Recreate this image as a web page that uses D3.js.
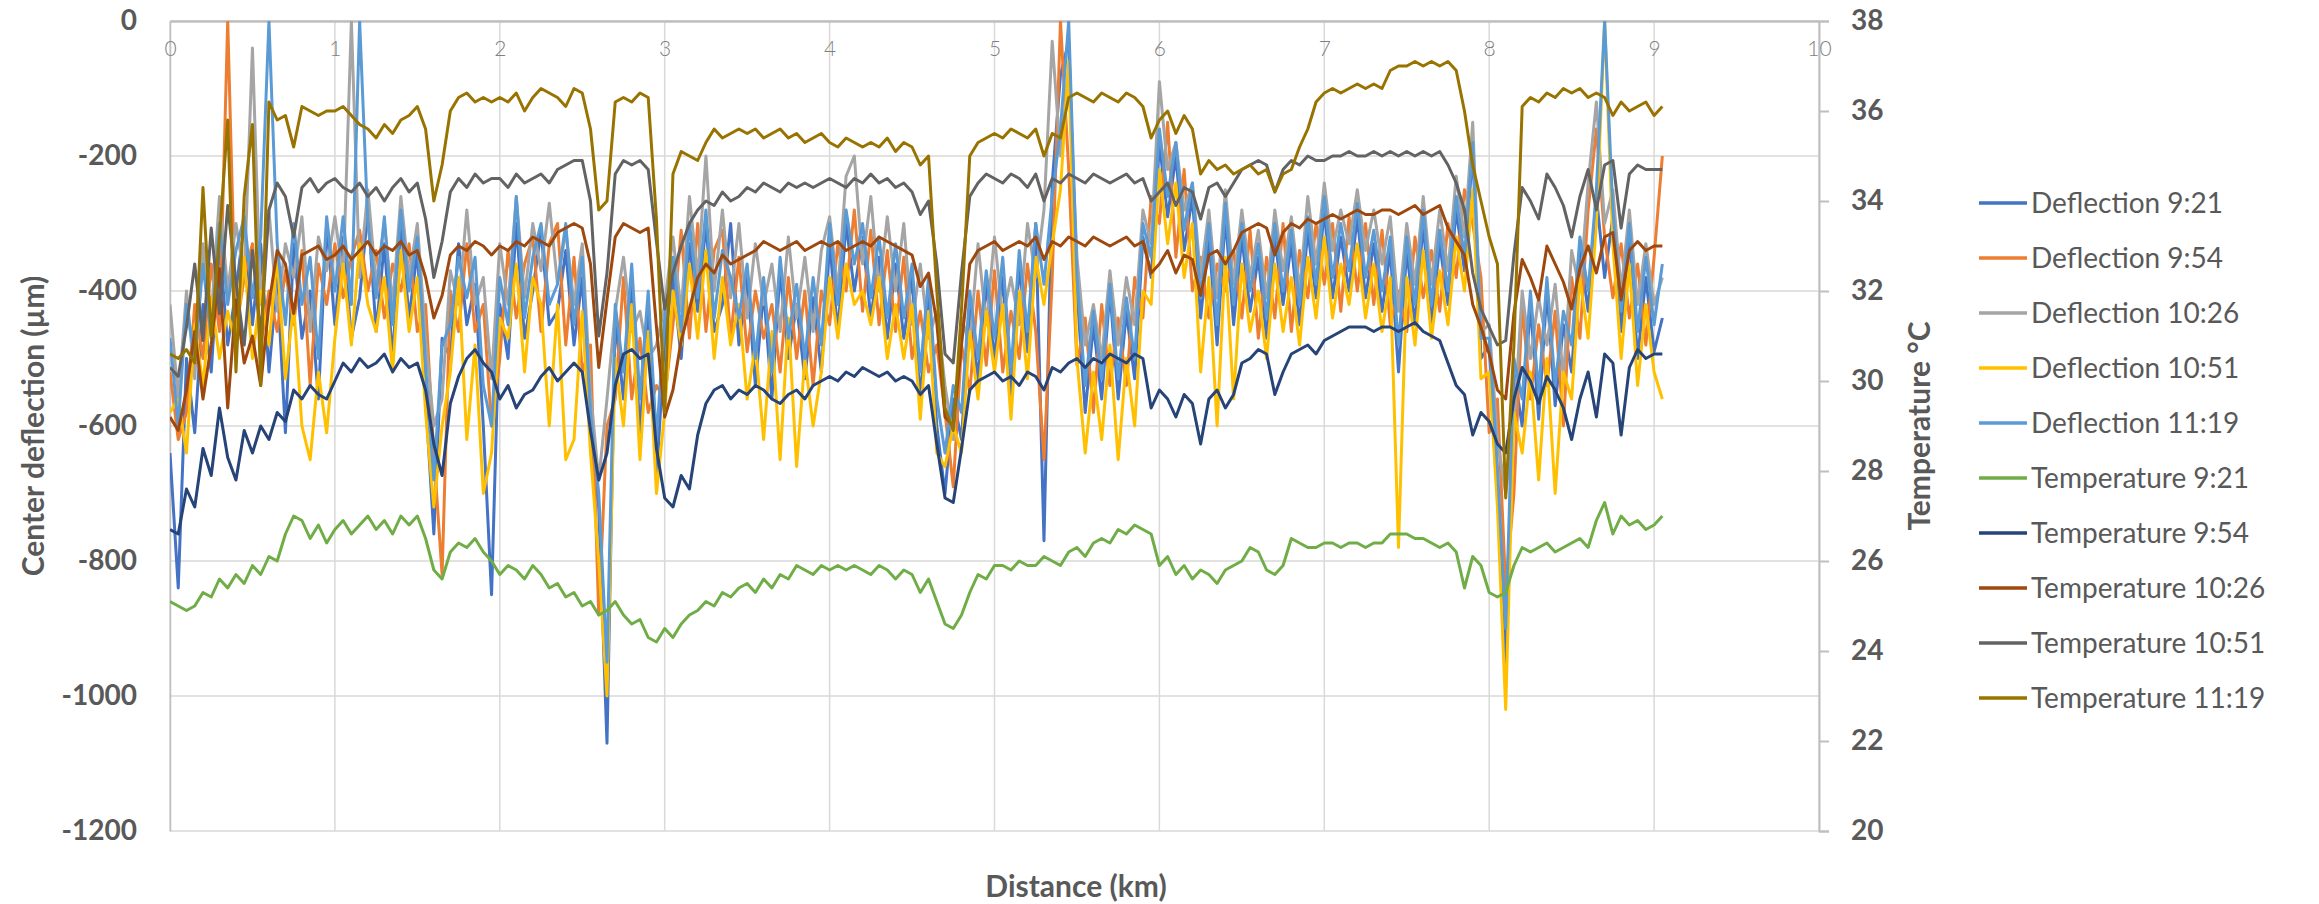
<!DOCTYPE html>
<html>
<head>
<meta charset="utf-8">
<script src="https://cdn.jsdelivr.net/npm/d3@7"></script>
<style>
    body { margin: 0; background: #ffffff; }
    text { font-family: Lato, "Open Sans", sans-serif; fill: #595959; }
    .tickLabel text { font-size: 28px; font-weight: bold; }
    .distanceLabel text { font-size: 21px; font-weight: 300; fill: #7f7f7f; }
    .axisTitle { font-size: 30px; font-weight: bold; }
    .legendText { font-size: 28px; }
    .gridLine { stroke: #d9d9d9; stroke-width: 1.5; }
    .seriesLine { fill: none; stroke-width: 3; stroke-linejoin: round; }
</style>
</head>
<body>
<svg id="chartSVG" width="2319" height="904"></svg>
<script>
//////////////////// DATA ////////////////////
// one sample every 0.05 km, starting at 0 km
const stepKm = 0.05;

// tick values
const distanceTicks = [0, 1, 2, 3, 4, 5, 6, 7, 8, 9, 10];
const deflectionTicks = [0, -200, -400, -600, -800, -1000, -1200];
const temperatureTicks = [20, 22, 24, 26, 28, 30, 32, 34, 36, 38];

// center deflection (µm)
const deflection921 = [
    -640, -840, -500, -610, -420, -520, -330, -480, -400, -300,
    -450, -330, -520, -380, -610, -330, -470, -400, -560, -300,
    -450, -320, -470, -410, -280, -460, -330, -500, -300, -440,
    -340, -560, -760, -470, -500, -330, -450, -390, -600, -850,
    -420, -500, -300, -470, -400, -310, -450, -430, -340, -480,
    -380, -620, -720, -1070, -440, -560, -390, -610, -420, -680,
    -470, -380, -500, -330, -430, -300, -460, -420, -300, -480,
    -380, -540, -400, -560, -370, -500, -420, -530, -410, -520,
    -330, -460, -300, -400, -320, -440, -350, -470, -360, -470,
    -380, -560, -400, -600, -700, -560, -620, -420, -530, -390,
    -500, -380, -560, -360, -490, -300, -770, -240, -80, -30,
    -400, -580, -450, -560, -400, -560, -430, -530, -320, -380,
    -180, -290, -200, -340, -260, -440, -320, -480, -290, -450,
    -320, -430, -350, -470, -320, -420, -330, -450, -310, -410,
    -280, -410, -320, -400, -290, -410, -330, -430, -340, -520,
    -340, -450, -300, -450, -330, -420, -280, -370, -190, -500,
    -480, -700, -950, -520, -600, -420, -590, -400, -570, -450,
    -520, -340, -430, -260, -380, -290, -460, -320, -500, -380,
    -490, -440
];
const deflection954 = [
    -520, -620, -580, -420, -500, -360, -460, 0, -460, -380,
    -330, -480, -400, -460, -370, -450, -340, -540, -360, -420,
    -330, -410, -350, -310, -400, -340, -440, -360, -400, -330,
    -460, -420, -640, -820, -400, -460, -330, -460, -420, -600,
    -500, -340, -440, -360, -320, -460, -330, -300, -480, -350,
    -520, -480, -880, -600, -560, -380, -560, -470, -580, -540,
    -560, -450, -310, -470, -300, -460, -340, -310, -470, -350,
    -490, -400, -470, -420, -520, -380, -500, -400, -540, -400,
    -450, -330, -400, -280, -430, -310, -450, -340, -460, -350,
    -500, -430, -520, -480, -580, -690, -480, -550, -400, -510,
    -370, -520, -430, -500, -360, -460, -650, -380, 0, -220,
    -510, -440, -580, -420, -540, -440, -540, -380, -440, -260,
    -300, -150, -350, -220, -400, -350, -440, -360, -400, -340,
    -440, -310, -470, -350, -440, -300, -460, -340, -410, -300,
    -390, -300, -430, -290, -400, -300, -420, -310, -450, -400,
    -460, -320, -410, -340, -430, -300, -380, -250, -300, -380,
    -610, -560, -840, -700, -420, -560, -450, -540, -430, -600,
    -380, -470, -280, -160, -320, -410, -330, -440, -360, -480,
    -350, -200
];
const deflection1026 = [
    -420, -560, -400, -530, -330, -440, -260, -400, -300, -380,
    -40, -420, -280, -430, -330, -380, -290, -460, -320, -370,
    -290, -380, 0, -380, -250, -390, -300, -420, -260, -380,
    -300, -470, -600, -560, -370, -420, -280, -420, -380, -530,
    -330, -420, -260, -410, -300, -370, -270, -390, -310, -420,
    -330, -550, -680, -560, -430, -350, -460, -430, -500, -480,
    -420, -320, -430, -260, -380, -200, -400, -280, -410, -300,
    -440, -330, -420, -360, -460, -320, -440, -350, -460, -340,
    -290, -400, -230, -200, -360, -260, -400, -290, -400, -300,
    -450, -360, -470, -430, -540, -620, -440, -480, -330, -450,
    -320, -440, -380, -450, -300, -380, -280, -30, -200, -70,
    -350, -480, -420, -500, -370, -480, -380, -450, -280, -330,
    -90, -220, -180, -280, -240, -380, -280, -410, -250, -390,
    -280, -380, -310, -410, -280, -370, -290, -400, -260, -360,
    -240, -340, -280, -330, -250, -340, -280, -360, -290, -430,
    -300, -390, -260, -390, -280, -370, -230, -320, -150, -460,
    -450, -620, -700, -600, -400, -500, -410, -480, -390, -530,
    -340, -400, -240, -120, -300, -250, -400, -280, -420, -330,
    -420, -380
];
const deflection1051 = [
    -580, -560, -640, -450, -540, -410, -500, -430, -480, -350,
    -500, -400, -480, -350, -530, -420, -600, -650, -520, -610,
    -470, -360, -480, -330, -420, -460, -380, -520, -340, -460,
    -380, -580, -720, -600, -520, -380, -620, -480, -700, -640,
    -440, -470, -360, -520, -380, -420, -600, -420, -650, -620,
    -430, -640, -800, -1000, -500, -600, -420, -650, -460, -700,
    -580, -400, -480, -360, -470, -340, -500, -380, -480, -420,
    -560, -480, -620, -460, -650, -440, -660, -500, -600, -520,
    -380, -470, -360, -420, -400, -450, -380, -500, -420, -500,
    -420, -590, -430, -640, -660, -600, -640, -460, -560, -430,
    -520, -420, -590, -400, -530, -350, -420, -330, -250, -60,
    -500, -640, -520, -620, -480, -650, -500, -600, -400, -420,
    -220, -330, -240, -380, -300, -520, -380, -600, -350, -560,
    -360, -460, -400, -500, -360, -460, -380, -480, -350, -440,
    -320, -440, -360, -420, -330, -440, -360, -460, -380, -780,
    -380, -480, -340, -470, -370, -450, -320, -400, -250, -530,
    -520, -720, -1020, -580, -640, -520, -680, -500, -700, -520,
    -560, -380, -470, -300, 0, -330, -500, -360, -540, -420,
    -520, -560
];
const deflection1119 = [
    -470, -600, -420, -500, -360, -470, -300, -420, -340, -290,
    -410, -320, 0, -330, -450, -300, -420, -350, -500, -290,
    -400, -290, -420, 0, -300, -410, -290, -450, -280, -400,
    -320, -510, -680, -480, -450, -350, -410, -350, -540, -600,
    -380, -450, -260, -440, -350, -300, -420, -390, -300, -450,
    -350, -580, -700, -950, -420, -520, -360, -560, -400, -620,
    -440, -350, -460, -300, -410, -280, -440, -340, -380, -440,
    -360, -500, -380, -520, -350, -470, -390, -500, -380, -480,
    -300, -420, -280, -360, -300, -410, -320, -440, -330, -440,
    -360, -520, -380, -560, -640, -540, -580, -400, -500, -370,
    -470, -350, -520, -340, -460, -300, -390, -260, -160, 0,
    -380, -540, -430, -530, -390, -530, -410, -500, -300, -350,
    -160, -260, -180, -310, -240, -410, -300, -450, -270, -420,
    -300, -400, -330, -440, -300, -400, -310, -420, -290, -390,
    -260, -380, -300, -370, -270, -380, -310, -400, -320, -480,
    -320, -420, -280, -420, -310, -400, -260, -350, -180, -470,
    -470, -660, -900, -500, -560, -400, -550, -380, -540, -430,
    -480, -320, -400, -250, 0, -280, -430, -300, -460, -350,
    -450, -360
];

// temperature (°C)
const temperature921 = [
    25.1, 25.0, 24.9, 25.0, 25.3, 25.2, 25.6, 25.4, 25.7, 25.5,
    25.9, 25.7, 26.1, 26.0, 26.6, 27.0, 26.9, 26.5, 26.8, 26.4,
    26.7, 26.9, 26.6, 26.8, 27.0, 26.7, 26.9, 26.6, 27.0, 26.8,
    27.0, 26.5, 25.8, 25.6, 26.2, 26.4, 26.3, 26.5, 26.2, 26.0,
    25.7, 25.9, 25.8, 25.6, 25.9, 25.7, 25.4, 25.5, 25.2, 25.3,
    25.0, 25.1, 24.8, 24.9, 25.1, 24.8, 24.6, 24.7, 24.3, 24.2,
    24.5, 24.3, 24.6, 24.8, 24.9, 25.1, 25.0, 25.3, 25.2, 25.4,
    25.5, 25.3, 25.6, 25.4, 25.7, 25.6, 25.9, 25.8, 25.7, 25.9,
    25.8, 25.9, 25.8, 25.9, 25.8, 25.7, 25.9, 25.8, 25.6, 25.8,
    25.7, 25.3, 25.6, 25.1, 24.6, 24.5, 24.8, 25.3, 25.7, 25.6,
    25.9, 25.9, 25.8, 26.0, 25.9, 25.9, 26.1, 26.0, 25.9, 26.2,
    26.3, 26.1, 26.4, 26.5, 26.4, 26.7, 26.6, 26.8, 26.7, 26.6,
    25.9, 26.1, 25.7, 25.9, 25.6, 25.8, 25.7, 25.5, 25.8, 25.9,
    26.0, 26.3, 26.2, 25.8, 25.7, 25.9, 26.5, 26.4, 26.3, 26.3,
    26.4, 26.4, 26.3, 26.4, 26.4, 26.3, 26.4, 26.4, 26.6, 26.6,
    26.6, 26.5, 26.5, 26.4, 26.3, 26.4, 26.2, 25.4, 26.1, 25.9,
    25.3, 25.2, 25.3, 25.9, 26.3, 26.2, 26.3, 26.4, 26.2, 26.3,
    26.4, 26.5, 26.3, 26.9, 27.3, 26.6, 27.0, 26.8, 26.9, 26.7,
    26.8, 27.0
];
const temperature954 = [
    26.7, 26.6, 27.6, 27.2, 28.5, 27.9, 29.4, 28.3, 27.8, 28.9,
    28.4, 29.0, 28.7, 29.3, 29.1, 29.8, 29.6, 29.9, 29.7, 29.6,
    30.0, 30.4, 30.2, 30.5, 30.3, 30.4, 30.6, 30.2, 30.5, 30.3,
    30.4, 29.8, 28.6, 27.9, 29.5, 30.1, 30.5, 30.7, 30.4, 30.2,
    29.6, 29.9, 29.4, 29.7, 29.8, 30.1, 30.3, 30.0, 30.2, 30.4,
    30.2, 28.9, 27.8, 28.4, 29.9, 30.6, 30.7, 30.5, 30.6, 28.5,
    27.4, 27.2, 27.9, 27.6, 28.8, 29.5, 29.8, 29.9, 29.6, 29.8,
    29.7, 29.9, 29.8, 29.6, 29.5, 29.7, 29.8, 29.6, 29.9, 30.0,
    30.1, 30.0, 30.2, 30.1, 30.3, 30.2, 30.1, 30.2, 30.0, 30.1,
    30.0, 29.7, 29.9, 28.6, 27.4, 27.3, 28.5, 29.8, 30.0, 30.1,
    30.2, 30.0, 30.1, 29.9, 30.2, 30.1, 29.8, 30.3, 30.2, 30.4,
    30.5, 30.3, 30.5, 30.4, 30.6, 30.5, 30.4, 30.6, 30.5, 29.4,
    29.8, 29.6, 29.2, 29.7, 29.5, 28.6, 29.6, 29.8, 29.4, 29.7,
    30.4, 30.5, 30.7, 30.6, 29.7, 30.2, 30.6, 30.7, 30.8, 30.6,
    30.9, 31.0, 31.1, 31.2, 31.2, 31.2, 31.1, 31.2, 31.2, 31.1,
    31.2, 31.3, 31.1, 31.0, 30.9, 30.4, 29.9, 29.7, 28.8, 29.3,
    29.1, 28.6, 28.4, 29.6, 30.3, 30.0, 29.5, 30.1, 29.8, 29.4,
    28.7, 29.6, 30.2, 29.2, 30.6, 30.4, 28.8, 30.3, 30.7, 30.5,
    30.6, 30.6
];
const temperature1026 = [
    29.2, 28.9, 29.8, 31.1, 29.6, 30.8, 32.5, 29.4, 31.8, 30.4,
    31.0, 29.9, 31.7, 32.9, 32.6, 31.5, 32.8, 32.9, 33.0, 32.7,
    32.8, 33.0, 32.7, 32.9, 33.1, 32.8, 33.0, 32.9, 33.1, 32.8,
    32.9, 32.3, 31.4, 31.9, 32.8, 33.0, 32.9, 33.1, 33.0, 32.8,
    33.0, 32.9, 33.1, 33.0, 33.2, 33.1, 33.0, 33.3, 33.4, 33.5,
    33.4, 32.6, 30.3, 31.8, 33.2, 33.5, 33.4, 33.3, 33.4, 31.2,
    29.2, 29.8, 30.9, 31.6, 32.3, 32.6, 32.4, 32.8, 32.6, 32.7,
    32.8, 32.9, 33.1, 33.0, 32.9, 33.0, 33.1, 32.9, 33.0, 33.1,
    33.0, 33.1, 32.9, 33.0, 33.1, 33.0, 33.2, 33.1, 33.0, 32.9,
    32.8, 32.1, 32.4, 31.3, 29.2, 29.0, 30.8, 32.6, 32.9, 33.0,
    33.1, 32.9, 33.0, 33.1, 33.0, 33.2, 32.7, 33.1, 33.0, 33.2,
    33.1, 33.0, 33.2, 33.1, 33.0, 33.1, 33.2, 33.0, 33.1, 32.4,
    32.6, 32.9, 32.4, 32.8, 32.7, 31.9, 32.8, 32.9, 32.6, 32.9,
    33.3, 33.4, 33.5, 33.4, 32.8, 33.3, 33.5, 33.4, 33.6, 33.5,
    33.6, 33.7, 33.6, 33.7, 33.8, 33.7, 33.7, 33.8, 33.8, 33.7,
    33.8, 33.9, 33.7, 33.8, 33.9, 33.4, 33.1, 32.8, 31.7, 31.2,
    30.6, 29.8, 29.6, 31.5, 32.7, 32.3, 31.8, 33.0, 32.6, 32.2,
    31.6, 32.5, 33.0, 32.4, 33.2, 33.3, 31.8, 32.9, 33.1, 32.9,
    33.0, 33.0
];
const temperature1051 = [
    30.3, 30.1, 31.2, 32.6, 30.9, 33.4, 31.5, 33.9, 32.2, 30.8,
    32.9, 31.0, 33.8, 34.4, 34.1, 33.2, 34.3, 34.5, 34.2, 34.4,
    34.5, 34.3, 34.2, 34.4, 34.1, 34.3, 34.0, 34.3, 34.5, 34.2,
    34.4, 33.6, 32.3, 33.1, 34.2, 34.5, 34.3, 34.6, 34.4, 34.5,
    34.5, 34.3, 34.6, 34.4, 34.5, 34.6, 34.4, 34.7, 34.8, 34.9,
    34.9, 34.0, 31.0, 32.4, 34.6, 34.9, 34.8, 34.9, 34.7, 33.1,
    31.6, 32.4, 33.0, 33.5, 33.8, 34.0, 33.9, 34.2, 34.0, 34.1,
    34.3, 34.2, 34.4, 34.3, 34.2, 34.4, 34.3, 34.4, 34.3, 34.4,
    34.5, 34.4, 34.3, 34.5, 34.4, 34.6, 34.4, 34.5, 34.3, 34.4,
    34.2, 33.7, 34.0, 32.6, 30.6, 30.4, 32.4, 34.1, 34.4, 34.6,
    34.5, 34.4, 34.6, 34.5, 34.3, 34.6, 34.0, 34.5, 34.4, 34.6,
    34.5, 34.4, 34.6, 34.5, 34.4, 34.5, 34.6, 34.4, 34.5, 34.0,
    34.2, 34.4, 33.9, 34.3, 34.2, 33.6, 34.3, 34.4, 34.1, 34.4,
    34.7, 34.8, 34.9, 34.8, 34.2, 34.7, 34.9, 34.8, 35.0, 34.9,
    34.9, 35.0, 35.0, 35.1, 35.0, 35.0, 35.1, 35.0, 35.1, 35.0,
    35.1, 35.0, 35.1, 35.0, 35.1, 34.8, 34.4, 33.8, 32.4, 31.6,
    31.2, 30.8, 30.9, 32.8, 34.3, 34.0, 33.6, 34.6, 34.3, 33.9,
    33.2, 34.1, 34.7, 33.8, 34.8, 34.9, 33.4, 34.6, 34.8, 34.7,
    34.7, 34.7
];
const temperature1119 = [
    30.6, 30.5, 30.7, 30.4, 34.3, 31.0, 33.2, 35.8, 30.2, 34.1,
    35.7, 29.9, 36.2, 35.8, 35.9, 35.2, 36.1, 36.0, 35.9, 36.0,
    36.0, 36.1, 35.9, 35.7, 35.6, 35.4, 35.7, 35.5, 35.8, 35.9,
    36.1, 35.6, 34.0, 34.8, 36.0, 36.3, 36.4, 36.2, 36.3, 36.2,
    36.3, 36.2, 36.4, 36.0, 36.3, 36.5, 36.4, 36.3, 36.1, 36.5,
    36.4, 35.6, 33.8, 34.0, 36.2, 36.3, 36.2, 36.4, 36.3, 33.6,
    29.3, 34.6, 35.1, 35.0, 34.9, 35.3, 35.6, 35.4, 35.5, 35.6,
    35.5, 35.6, 35.4, 35.5, 35.6, 35.4, 35.5, 35.3, 35.4, 35.5,
    35.3, 35.2, 35.4, 35.3, 35.2, 35.3, 35.2, 35.4, 35.1, 35.3,
    35.2, 34.8, 35.0, 32.0, 29.4, 28.9, 31.6, 35.0, 35.3, 35.4,
    35.5, 35.4, 35.6, 35.5, 35.4, 35.6, 35.0, 35.5, 35.4, 36.3,
    36.4, 36.3, 36.2, 36.4, 36.3, 36.2, 36.4, 36.3, 36.1, 35.4,
    35.8, 36.0, 35.5, 35.9, 35.6, 34.6, 34.9, 34.7, 34.8, 34.6,
    34.7, 34.8, 34.6, 34.7, 34.2, 34.6, 34.7, 35.2, 35.6, 36.2,
    36.4, 36.5, 36.4, 36.5, 36.6, 36.5, 36.6, 36.5, 36.9, 37.0,
    37.0, 37.1, 37.0, 37.1, 37.0, 37.1, 36.9, 36.0, 34.8, 34.0,
    33.2, 32.6, 27.4, 30.8, 36.1, 36.3, 36.2, 36.4, 36.3, 36.5,
    36.4, 36.5, 36.3, 36.4, 36.3, 35.9, 36.2, 36.0, 36.1, 36.2,
    35.9, 36.1
];

// series names and colours (legend order = drawing order)
const seriesNames = [
    "Deflection 9:21", "Deflection 9:54", "Deflection 10:26", "Deflection 10:51", "Deflection 11:19",
    "Temperature 9:21", "Temperature 9:54", "Temperature 10:26", "Temperature 10:51", "Temperature 11:19"
];
const seriesColors = [
    "#4472c4", "#ed7d31", "#a5a5a5", "#ffc000", "#5b9bd5",
    "#70ad47", "#264478", "#9e480e", "#636363", "#997300"
];
const seriesValues = [
    deflection921, deflection954, deflection1026, deflection1051, deflection1119,
    temperature921, temperature954, temperature1026, temperature1051, temperature1119
];


//////////////////// HANDLE SIZES ////////////////////
const chartSVG = d3.select("#chartSVG");

const plot = { left: 170, right: 1819, top: 21, bottom: 831 };

const legendPos = { lineX1: 1979, lineX2: 2027, textX: 2031, y0: 203, step: 55 };


//////////////////// INITIALIZE SCALERS ////////////////////
const scaleDistance = d3.scaleLinear()
    .domain([0, 10])
    .range([plot.left, plot.right]);

const scaleDeflection = d3.scaleLinear()
    .domain([-1200, 0])
    .range([plot.bottom, plot.top]);

const scaleTemperature = d3.scaleLinear()
    .domain([20, 38])
    .range([plot.bottom, plot.top]);


//////////////////// GRID ////////////////////
chartSVG.append("g")
    .selectAll("line")
    .data(deflectionTicks)
    .join("line")
    .attr("class", "gridLine")
    .attr("x1", plot.left)
    .attr("x2", plot.right)
    .attr("y1", d => scaleDeflection(d))
    .attr("y2", d => scaleDeflection(d));

chartSVG.append("g")
    .selectAll("line")
    .data(distanceTicks)
    .join("line")
    .attr("class", "gridLine")
    .attr("x1", d => scaleDistance(d))
    .attr("x2", d => scaleDistance(d))
    .attr("y1", plot.top)
    .attr("y2", plot.bottom);


//////////////////// AXES ////////////////////
// plain hyphen minus, no thousands separator
const plainFormat = d => String(d);

// left axis (deflection)
const yAxisLeft = d3.axisLeft(scaleDeflection)
    .tickValues(deflectionTicks)
    .tickFormat(plainFormat)
    .tickSize(0)
    .tickPadding(33);

chartSVG.append("g")
    .attr("class", "tickLabel")
    .attr("transform", `translate(${plot.left}, 0)`)
    .call(yAxisLeft)
    .call(g => g.select(".domain").attr("stroke", "#bfbfbf").attr("stroke-width", 1.5));

// right axis (temperature)
const yAxisRight = d3.axisRight(scaleTemperature)
    .tickValues(temperatureTicks)
    .tickFormat(plainFormat)
    .tickSize(10)
    .tickPadding(22);

chartSVG.append("g")
    .attr("class", "tickLabel")
    .attr("transform", `translate(${plot.right}, 0)`)
    .call(yAxisRight)
    .call(g => g.select(".domain").attr("stroke", "#bfbfbf").attr("stroke-width", 2))
    .call(g => g.selectAll(".tick line").attr("stroke", "#bfbfbf").attr("stroke-width", 2));

// distance axis sits at deflection 0 (top)
const xAxis = d3.axisBottom(scaleDistance)
    .tickValues(distanceTicks)
    .tickFormat(plainFormat)
    .tickSize(0)
    .tickPadding(20);

chartSVG.append("g")
    .attr("class", "distanceLabel")
    .attr("transform", `translate(0, ${plot.top})`)
    .call(xAxis)
    .call(g => g.select(".domain").attr("stroke", "#bfbfbf").attr("stroke-width", 2.5));

chartSVG.selectAll(".tick text").attr("fill", null);


//////////////////// LINES ////////////////////
chartSVG.append("clipPath")
    .attr("id", "plotClip")
    .append("rect")
    .attr("x", plot.left)
    .attr("y", plot.top)
    .attr("width", plot.right - plot.left)
    .attr("height", plot.bottom - plot.top);

const deflectionLine = d3.line()
    .x((d, i) => scaleDistance(i * stepKm))
    .y(d => scaleDeflection(d));

const temperatureLine = d3.line()
    .x((d, i) => scaleDistance(i * stepKm))
    .y(d => scaleTemperature(d));

chartSVG.append("g")
    .attr("clip-path", "url(#plotClip)")
    .selectAll("path")
    .data(seriesValues)
    .join("path")
    .attr("class", "seriesLine")
    .attr("stroke", (d, i) => seriesColors[i])
    .attr("d", (d, i) => i < 5 ? deflectionLine(d) : temperatureLine(d));


//////////////////// AXIS TITLES ////////////////////
chartSVG.append("text")
    .attr("class", "axisTitle")
    .attr("text-anchor", "middle")
    .attr("transform", "translate(33, 426) rotate(-90)")
    .attr("dy", "0.35em")
    .text("Center deflection (µm)");

chartSVG.append("text")
    .attr("class", "axisTitle")
    .attr("text-anchor", "middle")
    .attr("transform", "translate(1919, 426) rotate(-90)")
    .attr("dy", "0.35em")
    .text("Temperature °C");

chartSVG.append("text")
    .attr("class", "axisTitle")
    .attr("text-anchor", "middle")
    .attr("x", 1076)
    .attr("y", 897)
    .text("Distance (km)");


//////////////////// LEGEND ////////////////////
const legendRows = chartSVG.append("g")
    .selectAll("g")
    .data(seriesNames)
    .join("g")
    .attr("transform", (d, i) => `translate(0, ${legendPos.y0 + i * legendPos.step})`);

legendRows.append("line")
    .attr("x1", legendPos.lineX1)
    .attr("x2", legendPos.lineX2)
    .attr("stroke", (d, i) => seriesColors[i])
    .attr("stroke-width", 3.5);

legendRows.append("text")
    .attr("class", "legendText")
    .attr("x", legendPos.textX)
    .attr("dy", "0.35em")
    .text(d => d);
</script>
</body>
</html>
